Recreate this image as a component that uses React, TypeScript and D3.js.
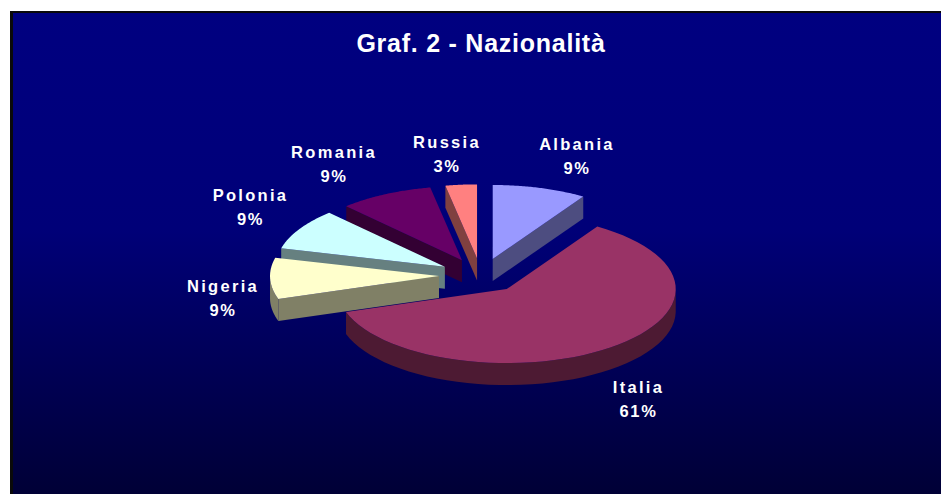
import React from "react";
import * as d3 from "d3";

const categories = ["Albania", "Italia", "Nigeria", "Polonia", "Romania", "Russia"];
const values = [9, 61, 9, 9, 9, 3];
const topColors = ["#9999FF", "#993366", "#FFFFCC", "#CCFFFF", "#660066", "#FF8080"];
const sideColors = ["#4D4D80", "#4D1A33", "#808066", "#668080", "#330033", "#804040"];
const paintOrder = [0, 5, 4, 3, 2, 1];
const labelAnchors: [number, number][] = [[577, 150], [638.5, 393], [223, 292], [250.5, 201], [334, 158], [447, 148]];
const titleText = "Graf. 2 - Nazionalità";

const W = 941, H = 494;
const CX = 481, CY = 275.5, RX = 169, RY = 74, DEPTH = 22, EXPLODE_X = 42, EXPLODE_Y = 17.2;

type P = [number, number];

export default function App() {
  const arcs = d3.pie<number>().sort(null).startAngle(0).endAngle(2 * Math.PI)(values);
  const xScale = d3.scaleLinear().domain([0, 1]).range([0, RX]);
  const yScale = d3.scaleLinear().domain([0, 1]).range([0, RY]);
  const line = d3.line<P>();

  const slices = paintOrder.map((i) => {
    const a = arcs[i];
    const mid = (a.startAngle + a.endAngle) / 2;
    const cx = CX + EXPLODE_X * Math.sin(mid);
    const cy = CY - EXPLODE_Y * Math.cos(mid);
    const pt = (ang: number, d = 0): P => [cx + xScale(Math.sin(ang)), cy - yScale(Math.cos(ang)) + d];
    const samples = d3.range(0, 61).map((k) => a.startAngle + ((a.endAngle - a.startAngle) * k) / 60);
    const top = line([[cx, cy], ...samples.map((s) => pt(s))]) + "Z";
    const walls: string[] = [];
    const apex: P = [cx, cy];
    const apexLow: P = [cx, cy + DEPTH];
    if (Math.sin(a.startAngle) < -1e-6) {
      walls.push(line([apex, pt(a.startAngle), pt(a.startAngle, DEPTH), apexLow])! + "Z");
    }
    if (Math.sin(a.endAngle) > 1e-6) {
      walls.push(line([apex, pt(a.endAngle), pt(a.endAngle, DEPTH), apexLow])! + "Z");
    }
    const low = samples.filter((s) => Math.cos(s) < 0);
    if (low.length > 1) {
      const lo = low.map((s) => pt(s));
      const hi = low.map((s) => pt(s, DEPTH)).reverse();
      walls.push(line([...lo, ...hi])! + "Z");
    }
    return { i, top, walls };
  });

  const labelStyle: React.CSSProperties = {
    fontFamily: "'Liberation Sans', Arial, sans-serif",
    fontWeight: 700,
    fontSize: 16.5,
    fill: "#FFFFFF",
  };

  return (
    <svg width={W} height={H} style={{ position: "absolute", left: 0, top: 0 }}>
      <defs>
        <linearGradient id="bg" x1="0" y1="0" x2="0" y2="1">
          <stop offset="0" stopColor="#000080" />
          <stop offset="0.45" stopColor="#000078" />
          <stop offset="1" stopColor="#000036" />
        </linearGradient>
      </defs>
      <rect width={W} height={H} fill="#FFFFFF" />
      <rect x={10} y={11} width={W - 10} height={H - 11} fill="#0A0A0A" />
      <rect x={13} y={13} width={W - 13} height={H - 13} fill="url(#bg)" />
      <text x={481} y={52} textAnchor="middle" style={{ ...labelStyle, fontSize: 25, letterSpacing: 0.75 }}>{titleText}</text>
      {slices.map((s) => (
        <g key={categories[s.i]}>
          {s.walls.map((d, k) => (
            <path key={k} d={d} fill={sideColors[s.i]} />
          ))}
          <path d={s.top} fill={topColors[s.i]} />
        </g>
      ))}
      {categories.map((c, i) => (
        <g key={c}>
          <text x={labelAnchors[i][0]} y={labelAnchors[i][1]} textAnchor="middle" style={{ ...labelStyle, letterSpacing: 2.3 }}>{c}</text>
          <text x={labelAnchors[i][0]} y={labelAnchors[i][1] + 24} textAnchor="middle" style={{ ...labelStyle, letterSpacing: 1.6 }}>{values[i]}%</text>
        </g>
      ))}
    </svg>
  );
}
